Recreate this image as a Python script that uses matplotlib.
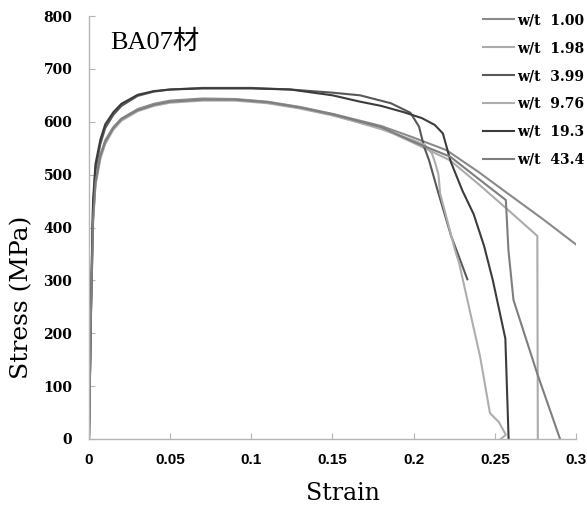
import matplotlib
matplotlib.use("Agg")
import matplotlib.pyplot as plt

# stress-strain curves, BA07 material, one per w/t ratio
labels = ["w/t  1.00", "w/t  1.98", "w/t  3.99", "w/t  9.76", "w/t  19.3", "w/t  43.4"]
colors = ["#8a8a8a", "#ababab", "#585858", "#adadad", "#3c3c3c", "#7e7e7e"]

strain_100 = [0, 0.0012, 0.0025, 0.004, 0.007, 0.01, 0.015, 0.02, 0.03, 0.04, 0.05, 0.07,
              0.09, 0.11, 0.13, 0.15, 0.18, 0.2, 0.2204, 0.24, 0.2568, 0.28, 0.3]
stress_100 = [0, 240, 420, 490, 538, 565, 590, 606, 624, 634, 640, 644,
              643, 638, 628, 615, 592, 570, 546, 505, 467, 415, 368]

strain_198 = [0, 0.0012, 0.0025, 0.004, 0.007, 0.01, 0.015, 0.02, 0.03, 0.04, 0.05, 0.07,
              0.09, 0.11, 0.13, 0.15, 0.18, 0.2, 0.2225, 0.24, 0.2568, 0.2762, 0.2765]
stress_198 = [0, 230, 410, 480, 530, 558, 585, 602, 620, 630, 636, 640,
              640, 635, 625, 612, 588, 560, 527, 482, 437, 384, 0]

strain_399 = [0, 0.0012, 0.0025, 0.004, 0.007, 0.01, 0.015, 0.02, 0.03, 0.04, 0.05, 0.07,
              0.1, 0.124, 0.15, 0.167, 0.186, 0.198, 0.2033, 0.2064, 0.2095, 0.2146, 0.223, 0.2331]
stress_399 = [0, 250, 440, 510, 558, 588, 613, 630, 649, 657, 661, 664,
              664, 661, 655, 650, 635, 617, 591, 553, 527, 472, 385, 302]

strain_976 = [0, 0.0012, 0.0025, 0.004, 0.007, 0.01, 0.015, 0.02, 0.03, 0.04, 0.05, 0.07,
              0.09, 0.11, 0.13, 0.15, 0.18, 0.2, 0.207, 0.2113, 0.2133, 0.2153, 0.2163,
              0.2255, 0.228, 0.241, 0.247, 0.2525, 0.2568, 0.2537]
stress_976 = [0, 235, 415, 485, 534, 562, 588, 604, 622, 632, 638, 642,
              642, 637, 627, 613, 586, 565, 556, 540, 522, 500, 465,
              357, 333, 155, 49, 32, 8, 0]

strain_193 = [0, 0.0012, 0.0025, 0.004, 0.007, 0.01, 0.015, 0.02, 0.03, 0.04, 0.05, 0.07,
              0.1, 0.124, 0.15, 0.167, 0.18, 0.194, 0.205, 0.213, 0.218, 0.2228, 0.23,
              0.237, 0.2434, 0.2488, 0.2565, 0.2585]
stress_193 = [0, 250, 450, 520, 566, 595, 618, 634, 651, 658, 661, 663,
              663, 661, 650, 638, 630, 618, 607, 594, 578, 525, 470,
              425, 365, 300, 190, 0]

strain_434 = [0, 0.0012, 0.0025, 0.004, 0.007, 0.01, 0.015, 0.02, 0.03, 0.04, 0.05, 0.07,
              0.09, 0.11, 0.13, 0.15, 0.18, 0.2, 0.2225, 0.24, 0.2568, 0.2584, 0.2615,
              0.276, 0.2902]
stress_434 = [0, 235, 415, 485, 535, 562, 588, 605, 622, 632, 638, 642,
              642, 637, 627, 614, 590, 562, 534, 492, 452, 357, 263,
              125, 0]

strains = [strain_100, strain_198, strain_399, strain_976, strain_193, strain_434]
stresses = [stress_100, stress_198, stress_399, stress_976, stress_193, stress_434]

fig = plt.figure(figsize=(5.87, 5.05), dpi=100)
ax = fig.add_axes([0.1516, 0.1307, 0.8296, 0.8376])

for x, y, c, lab in zip(strains, stresses, colors, labels):
    ax.plot(x, y, color=c, linewidth=1.5, label=lab)

ax.set_xlim(0, 0.3)
ax.set_ylim(0, 800)
ax.set_xticks([0, 0.05, 0.1, 0.15, 0.2, 0.25, 0.3])
ax.set_xticklabels(["0", "0.05", "0.1", "0.15", "0.2", "0.25", "0.3"])
ax.set_yticks(range(0, 801, 100))

for s in ["top", "right"]:
    ax.spines[s].set_visible(False)
for s in ["left", "bottom"]:
    ax.spines[s].set_color("#b5b5b5")
    ax.spines[s].set_linewidth(1.0)

ax.tick_params(axis="both", direction="in", length=4, color="#b5b5b5")
ax.tick_params(axis="x", pad=10)
ax.tick_params(axis="y", pad=12)
for t in ax.get_xticklabels():
    t.set_fontfamily("Liberation Sans")
    t.set_fontweight("bold")
    t.set_fontsize(11)
for t in ax.get_yticklabels():
    t.set_fontfamily("DejaVu Serif")
    t.set_fontweight("bold")
    t.set_fontsize(10)

ax.text(0.043, 0.968, "BA07材", transform=ax.transAxes, ha="left", va="top",
        fontsize=19, family=["Liberation Serif", "Noto Sans CJK JP"])

fig.text(343 / 587, 1 - 493 / 505, "Strain", ha="center", va="center",
         fontsize=17, family="DejaVu Serif")
fig.text(22 / 587, 1 - 297 / 505, "Stress (MPa)", ha="center", va="center",
         rotation=90, fontsize=18, family="DejaVu Serif")

leg = fig.legend(loc="upper right", bbox_to_anchor=(1.012, 0.993), frameon=False,
                 handlelength=2.2, handletextpad=0.25, labelspacing=1.0,
                 borderaxespad=0.3, prop={"family": "DejaVu Serif", "weight": "bold", "size": 10})

fig.savefig("out.png", dpi=100, facecolor="white")
